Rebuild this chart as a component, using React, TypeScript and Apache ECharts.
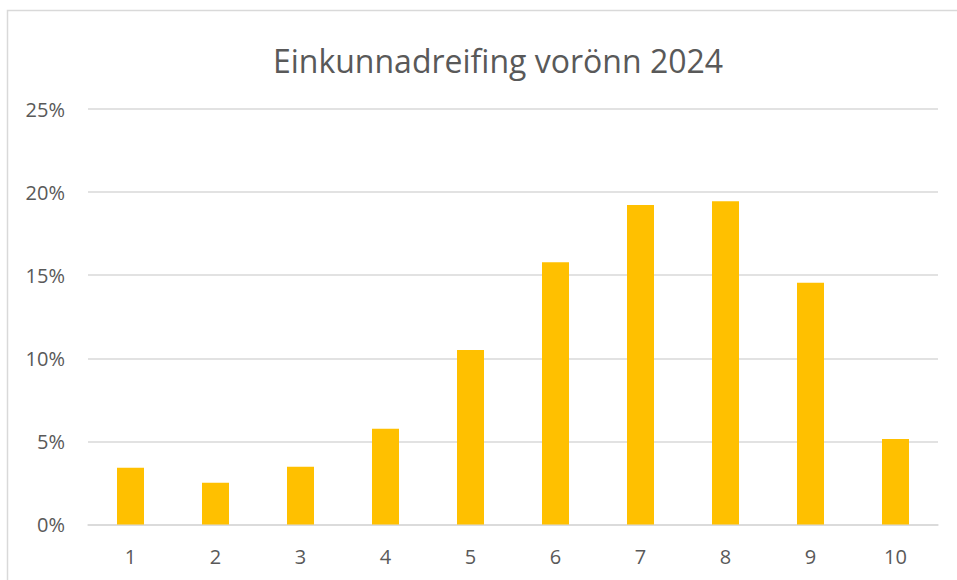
import React, { useEffect, useRef } from "react";
import * as echarts from "echarts";

const titleText = "Einkunnadreifing vorönn 2024";
const categories = ["1", "2", "3", "4", "5", "6", "7", "8", "9", "10"];
const shares = [3.42, 2.51, 3.48, 5.76, 10.5, 15.78, 19.22, 19.45, 14.55, 5.14];
const yTicks = { min: 0, max: 25, interval: 5 };

export default function App() {
  const ref = useRef<HTMLDivElement>(null);
  useEffect(() => {
    if (!ref.current) return;
    const chart = echarts.init(ref.current, null, { renderer: "svg" });
    chart.setOption({
      animation: false,
      backgroundColor: "#ffffff",
      textStyle: { fontFamily: "Open Sans" },
      title: {
        text: titleText,
        left: 493,
        top: 39,
        textAlign: "center",
        textStyle: { fontFamily: "Open Sans", fontSize: 32, fontWeight: "normal", color: "#595959" },
      },
      graphic: [
        {
          type: "rect",
          shape: { x: 7.5, y: 10.5, width: 1200, height: 900 },
          style: { fill: "none", stroke: "#d9d9d9", lineWidth: 1.5 },
          silent: true,
          z: -10,
        },
      ],
      grid: { left: 88, right: 19, top: 109, bottom: 55.5, containLabel: false },
      xAxis: {
        type: "category",
        data: categories,
        axisLine: { show: true, lineStyle: { color: "#d9d9d9", width: 1.5 } },
        axisTick: { show: false },
        axisLabel: { color: "#595959", fontSize: 20, margin: 22, fontFamily: "Open Sans" },
      },
      yAxis: {
        type: "value",
        min: yTicks.min,
        max: yTicks.max,
        interval: yTicks.interval,
        axisLine: { show: false },
        axisTick: { show: false },
        splitLine: { lineStyle: { color: "#d9d9d9", width: 1.5 } },
        axisLabel: {
          color: "#595959",
          fontSize: 20,
          margin: 23,
          fontFamily: "Open Sans",
          formatter: (v: number) => `${v}%`,
        },
      },
      series: [
        {
          type: "bar",
          data: shares,
          barWidth: 27,
          itemStyle: { color: "#FFC000" },
        },
      ],
    });
    return () => chart.dispose();
  }, []);
  return (
    <div
      ref={ref}
      style={{ position: "fixed", left: 0, top: 0, width: 957, height: 580 }}
    />
  );
}
